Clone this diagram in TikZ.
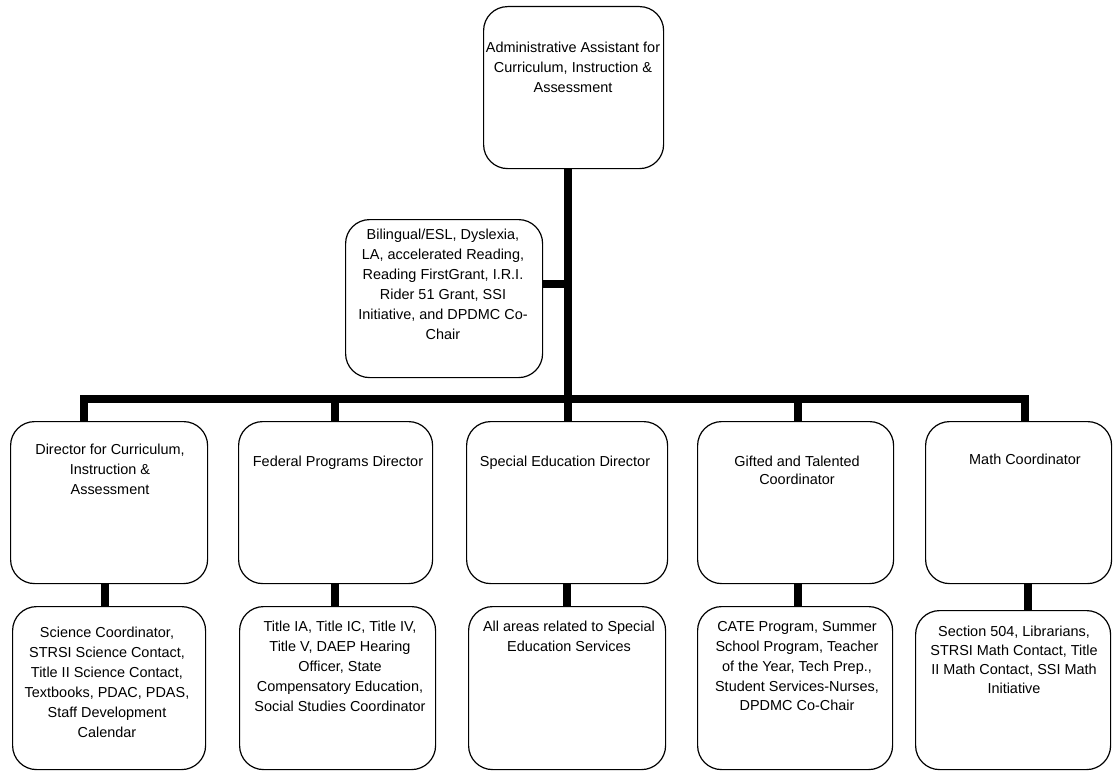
\documentclass[tikz,border=0pt]{standalone}
\usepackage{fontspec}
\setmainfont{Liberation Sans}
\begin{document}
\begin{tikzpicture}[x=1bp,y=-1bp,
  box/.style={draw, line width=1.2bp, rounded corners=24bp, inner sep=0pt, anchor=north west},
  txt/.style={anchor=north, align=center, inner sep=0pt, font=\fontsize{14.5}{20}\selectfont},
  link/.style={line width=7.5bp, line join=miter}]
\useasboundingbox (0,0) rectangle (1114,772);
% boxes
\node[box, minimum width=180bp, minimum height=162bp] (top) at (483,6) {};
\node[box, minimum width=197bp, minimum height=158bp] (bil) at (345,219) {};
\node[box, minimum width=197bp, minimum height=162bp] (b1) at (10,421) {};
\node[box, minimum width=194bp, minimum height=162bp] (b2) at (238,421) {};
\node[box, minimum width=201bp, minimum height=162bp] (b3) at (466,421) {};
\node[box, minimum width=196bp, minimum height=162bp] (b4) at (697,421) {};
\node[box, minimum width=186bp, minimum height=162bp] (b5) at (925,421) {};
\node[box, minimum width=193bp, minimum height=163bp] (c1) at (12,606) {};
\node[box, minimum width=196bp, minimum height=163bp] (c2) at (239,606) {};
\node[box, minimum width=197bp, minimum height=163bp] (c3) at (468,606) {};
\node[box, minimum width=195bp, minimum height=163bp] (c4) at (697,606) {};
\node[box, minimum width=195bp, minimum height=159bp] (c5) at (915,610) {};
% texts
\node[txt] (t0) at (573,42) {Administrative Assistant for\\Curriculum, Instruction \&\\Assessment};
\node[txt] (tb) at (443,229) {Bilingual/ESL, Dyslexia,\\LA, accelerated Reading,\\Reading FirstGrant, I.R.I.\\Rider 51 Grant, SSI\\Initiative, and DPDMC Co-\\Chair};
\node[txt] (ta1) at (110,444) {Director for Curriculum,\\Instruction \&\\Assessment};
\node[txt] (ta2) at (338,456) {Federal Programs Director};
\node[txt] (ta3) at (565,456) {Special Education Director};
\node[txt, font=\fontsize{14.5}{18}\selectfont] (ta4) at (797,456) {Gifted and Talented\\Coordinator};
\node[txt] (ta5) at (1025,454) {Math Coordinator};
\node[txt] (tc1) at (107,627) {Science Coordinator,\\STRSI Science Contact,\\Title II Science Contact,\\Textbooks, PDAC, PDAS,\\Staff Development\\Calendar};
\node[txt] (tc2) at (340,621) {Title IA, Title IC, Title IV,\\Title V, DAEP Hearing\\Officer, State\\Compensatory Education,\\Social Studies Coordinator};
\node[txt] (tc3) at (569,621) {All areas related to Special\\Education Services};
\node[txt] (tc4) at (797,621) {CATE Program, Summer\\School Program, Teacher\\of the Year, Tech Prep.,\\Student Services-Nurses,\\DPDMC Co-Chair};
\node[txt, font=\fontsize{14.5}{19}\selectfont] (tc5) at (1014,626) {Section 504, Librarians,\\STRSI Math Contact, Title\\II Math Contact, SSI Math\\Initiative};
% junction coordinates
\coordinate (trunk) at (568,399);
\coordinate (busL) at (84,399);
\coordinate (busR) at (1025,399);
\coordinate (d2) at (335,399);
\coordinate (d4) at (798,399);
\coordinate (bj) at (568,284);
\coordinate (v1) at (105,0);
\coordinate (v2) at (335,0);
\coordinate (v3) at (567,0);
\coordinate (v4) at (798,0);
\coordinate (v5) at (1028,0);
% connectors
\draw[link] (trunk |- top.south) -- (trunk);
\draw[link] (bj -| bil.east) -- (bj);
\draw[link] (busL |- b1.north) -- (busL) -- (busR) -- (busR |- b5.north);
\draw[link] (d2) -- (d2 |- b2.north);
\draw[link] (trunk) -- (trunk |- b3.north);
\draw[link] (d4) -- (d4 |- b4.north);
\draw[link] (v1 |- b1.south) -- (v1 |- c1.north);
\draw[link] (v2 |- b2.south) -- (v2 |- c2.north);
\draw[link] (v3 |- b3.south) -- (v3 |- c3.north);
\draw[link] (v4 |- b4.south) -- (v4 |- c4.north);
\draw[link] (v5 |- b5.south) -- (v5 |- c5.north);
\end{tikzpicture}
\end{document}
